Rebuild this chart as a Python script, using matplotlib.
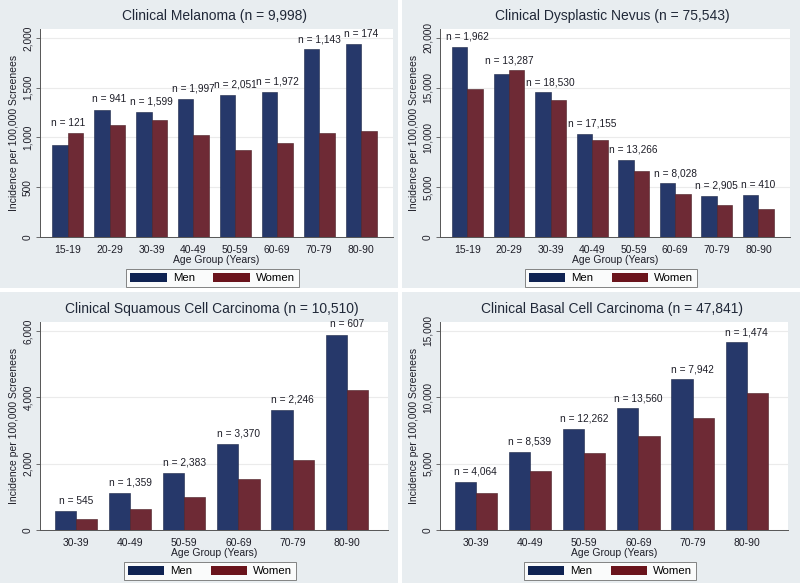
import matplotlib
matplotlib.use('Agg')
import matplotlib.pyplot as plt
from matplotlib.patches import Rectangle, Patch
import numpy as np

plt.rcParams['font.family'] = ['Liberation Sans', 'DejaVu Sans']

# Data
ages_8 = ['15-19', '20-29', '30-39', '40-49', '50-59', '60-69', '70-79', '80-90']
ages_6 = ['30-39', '40-49', '50-59', '60-69', '70-79', '80-90']

mel_men = [921, 1280, 1260, 1387, 1430, 1457, 1886, 1936]
mel_women = [1045, 1129, 1176, 1028, 871, 945, 1045, 1065]
mel_n = ['121', '941', '1,599', '1,997', '2,051', '1,972', '1,143', '174']

dn_men = [19095, 16348, 14539, 10385, 7739, 5394, 4154, 4221]
dn_women = [14841, 16750, 13769, 9749, 6667, 4288, 3183, 2848]
dn_n = ['1,962', '13,287', '18,530', '17,155', '13,266', '8,028', '2,905', '410']

scc_men = [573, 1116, 1719, 2593, 3618, 5889]
scc_women = [322, 623, 985, 1548, 2111, 4211]
scc_n = ['545', '1,359', '2,383', '3,370', '2,246', '607']

bcc_men = [3643, 5905, 7613, 9171, 11357, 14146]
bcc_women = [2764, 4447, 5779, 7085, 8467, 10302]
bcc_n = ['4,064', '8,539', '12,262', '13,560', '7,942', '1,474']

BG = '#E8EDF0'
MEN = '#26386A'
WOMEN = '#6E2A35'
TXT = '#1E1E28'

W, H = 800, 583


def px(l, t, r, b):
    return [l / W, 1 - b / H, (r - l) / W, (b - t) / H]


def panel(fig, rect, title, cats, men, women, nlab, yticks, bw, title_y, leg_y):
    ax = fig.add_axes(px(*rect))
    ax.set_zorder(2)
    x = np.arange(len(cats))
    ax.bar(x - bw / 2, men, bw, color=MEN, edgecolor='#1a2546', lw=0.4, zorder=3)
    ax.bar(x + bw / 2, women, bw, color=WOMEN, edgecolor='#4a1c24', lw=0.4, zorder=3)
    top = yticks[-1] * 1.045
    ax.set_ylim(0, top)
    ax.set_xlim(-0.66, len(cats) - 1 + 0.76)
    for i in range(len(cats)):
        ax.text(i, max(men[i], women[i]) + top * 0.025, 'n = ' + nlab[i],
                ha='center', va='bottom', fontsize=7.3, color=TXT, zorder=4)
    ax.set_yticks(yticks)
    ax.set_yticklabels(['{:,}'.format(v) for v in yticks], rotation=90,
                       va='center', fontsize=7.3, color=TXT)
    ax.set_xticks(x)
    ax.set_xticklabels(cats, fontsize=7.5, color=TXT)
    ax.tick_params(axis='x', length=0, pad=6)
    ax.tick_params(axis='y', length=3, width=0.6, color='#555555', pad=2)
    ax.grid(axis='y', color='#EBEBEB', lw=0.8, zorder=0)
    for s in ('top', 'right'):
        ax.spines[s].set_visible(False)
    for s in ('left', 'bottom'):
        ax.spines[s].set_color('#555555')
        ax.spines[s].set_linewidth(0.7)
    ax.set_xlabel('Age Group (Years)', fontsize=7.5, color=TXT, labelpad=0)
    ax.set_ylabel('Incidence per 100,000 Screenees', fontsize=7.5, color=TXT,
                  labelpad=3)
    cx = (rect[0] + rect[2]) / 2
    fig.text(cx / W - 0.003, 1 - title_y / H, title, ha='center', va='center',
             fontsize=10, color='#202838')
    handles = [Patch(facecolor='#0F2352', edgecolor='none', label='Men'),
               Patch(facecolor='#6A141C', edgecolor='none', label='Women')]
    leg = fig.legend(handles=handles, loc='center',
                     bbox_to_anchor=((cx - 4) / W, 1 - leg_y / H), ncol=2,
                     fontsize=8.2, frameon=True, fancybox=False,
                     handlelength=3.2, handleheight=0.9, columnspacing=1.6,
                     handletextpad=0.55, borderpad=0.35, borderaxespad=0)
    leg.get_frame().set_edgecolor('#666666')
    leg.get_frame().set_linewidth(0.7)
    return ax


fig = plt.figure(figsize=(8, 5.83), dpi=100, facecolor='white')

# panel backgrounds
for (l, t, r, b) in [(0, 0, 398, 288), (402, 0, 800, 288),
                     (0, 292, 398, 583), (402, 292, 800, 583)]:
    fig.patches.append(Rectangle((l / W, 1 - b / H), (r - l) / W, (b - t) / H,
                                 transform=fig.transFigure, facecolor=BG,
                                 edgecolor='none', zorder=-10))

panel(fig, (40, 29, 393, 237), 'Clinical Melanoma (n = 9,998)', ages_8,
      mel_men, mel_women, mel_n, [0, 500, 1000, 1500, 2000], 0.37, 16, 278)
panel(fig, (440, 29, 790, 237), 'Clinical Dysplastic Nevus (n = 75,543)',
      ages_8, dn_men, dn_women, dn_n, [0, 5000, 10000, 15000, 20000], 0.37,
      16, 278)
panel(fig, (40, 322, 388, 530), 'Clinical Squamous Cell Carcinoma (n = 10,510)',
      ages_6, scc_men, scc_women, scc_n, [0, 2000, 4000, 6000], 0.39, 309, 571)
panel(fig, (440, 322, 788, 530), 'Clinical Basal Cell Carcinoma (n = 47,841)',
      ages_6, bcc_men, bcc_women, bcc_n, [0, 5000, 10000, 15000], 0.39, 309, 571)

fig.savefig('out.png', dpi=100, facecolor='white')
